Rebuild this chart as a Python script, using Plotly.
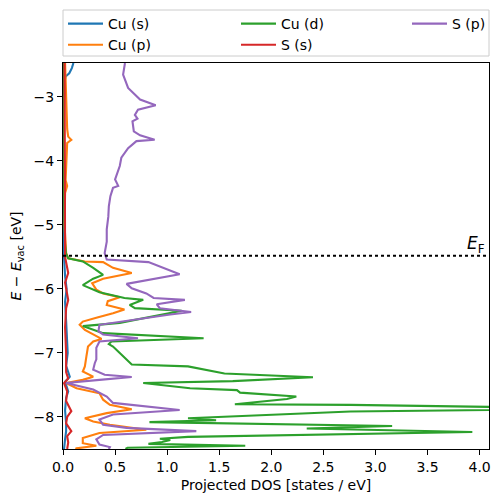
import plotly.graph_objects as go

# ---------------- data ----------------
E_F = -5.48

cu_s_E = [-2.47, -2.55, -2.63, -2.68, -2.80, -3.5, -4.5, -5.5, -5.8, -6.0, -6.2, -6.5, -6.8,
          -7.0, -7.2, -7.37, -7.45, -7.6, -7.7, -7.9, -8.1, -8.22, -8.35, -8.5]
cu_s_dos = [0.10, 0.085, 0.06, 0.025, 0.01, 0.005, 0.005, 0.01, 0.02, 0.035, 0.02, 0.03, 0.04,
            0.045, 0.03, 0.065, 0.02, 0.05, 0.03, 0.02, 0.03, 0.03, 0.02, 0.01]

cu_p_E = [-2.47, -3.0, -3.5, -3.62, -3.67, -3.72, -4.0, -4.3, -4.39, -4.5, -5.0, -5.44, -5.52,
          -5.57, -5.58, -5.67, -5.75, -5.84, -5.91, -6.01, -6.07, -6.13, -6.19, -6.25, -6.32,
          -6.38, -6.45, -6.51, -6.56, -6.64, -6.71, -6.78, -6.82, -6.90, -7.05, -7.21, -7.29,
          -7.37, -7.42, -7.47, -7.55, -7.63, -7.73, -7.81, -7.88, -7.94, -8.02, -8.07, -8.12,
          -8.16, -8.20, -8.25, -8.33, -8.41, -8.45, -8.49, -8.5]
cu_p_dos = [0.02, 0.03, 0.04, 0.05, 0.08, 0.04, 0.03, 0.025, 0.04, 0.02, 0.015, 0.03, 0.05,
            0.21, 0.385, 0.48, 0.66, 0.385, 0.28, 0.32, 0.385, 0.545, 0.43, 0.42, 0.59,
            0.48, 0.32, 0.19, 0.16, 0.21, 0.29, 0.37, 0.29, 0.24, 0.225, 0.21, 0.19,
            0.29, 0.19, 0.03, 0.13, 0.35, 0.385, 0.45, 0.66, 0.42, 0.21, 0.29, 0.45,
            0.61, 0.80, 0.35, 0.19, 0.19, 0.32, 0.13, 0.12]

cu_d_E = [-2.47, -4.0, -4.5, -5.0, -5.3, -5.45, -5.52, -5.57, -5.67, -5.78, -5.84, -5.94,
          -6.05, -6.14, -6.17, -6.25, -6.30, -6.34, -6.43, -6.53, -6.58, -6.69, -6.77, -6.82,
          -6.86, -6.90, -7.00, -7.10, -7.18, -7.21, -7.32, -7.38, -7.44, -7.47, -7.55, -7.58,
          -7.62, -7.68, -7.72, -7.80, -7.81, -7.87, -7.915, -8.02, -8.05, -8.08, -8.11, -8.14,
          -8.18, -8.235, -8.31, -8.34, -8.36, -8.39, -8.42, -8.45, -8.48, -8.5]
cu_d_dos = [0.002, 0.005, 0.01, 0.015, 0.02, 0.03, 0.05, 0.19, 0.29, 0.385, 0.29, 0.19,
            0.35, 0.59, 0.77, 0.64, 0.69, 1.14, 0.87, 0.545, 0.19, 0.385, 1.35, 0.465,
            0.44, 0.48, 0.545, 0.61, 0.66, 1.20, 1.55, 2.40, 1.63, 0.77, 1.22, 1.67,
            1.70, 2.24, 2.15, 1.65, 2.76, 5.2, 2.76, 1.20, 1.47, 0.83, 2.0, 3.16,
            2.34, 3.93, 1.20, 0.93, 1.03, 0.95, 0.82, 1.75, 0.62, 0.60]

s_s_E = [-2.47, -3.0, -4.0, -5.0, -5.5, -5.75, -5.9, -6.17, -6.3, -6.6, -7.0, -7.3, -7.4,
         -7.47, -7.6, -7.75, -7.91, -8.0, -8.1, -8.22, -8.3, -8.4, -8.5]
s_s_dos = [0.015, 0.015, 0.015, 0.02, 0.02, 0.05, 0.02, 0.05, 0.03, 0.02, 0.03, 0.03, 0.05,
           0.01, 0.04, 0.03, 0.08, 0.04, 0.03, 0.08, 0.04, 0.05, 0.04]

s_p_E = [-2.47, -2.65, -2.86, -3.04, -3.13, -3.20, -3.28, -3.34, -3.38, -3.54, -3.60, -3.67,
         -3.69, -3.80, -3.95, -4.08, -4.29, -4.39, -4.42, -4.55, -4.71, -4.87, -5.07, -5.26,
         -5.44, -5.54, -5.58, -5.67, -5.77, -5.92, -5.99, -6.07, -6.14, -6.17, -6.24, -6.30,
         -6.36, -6.40, -6.43, -6.48, -6.56, -6.66, -6.71, -6.77, -6.82, -6.92, -7.10, -7.16,
         -7.26, -7.34, -7.375, -7.42, -7.47, -7.57, -7.68, -7.78, -7.89, -7.96, -8.04, -8.12,
         -8.17, -8.22, -8.28, -8.35, -8.43, -8.47, -8.5]
s_p_dos = [0.595, 0.577, 0.625, 0.74, 0.89, 0.72, 0.69, 0.715, 0.667, 0.68, 0.74, 0.88,
           0.705, 0.625, 0.56, 0.545, 0.50, 0.53, 0.48, 0.455, 0.44, 0.435, 0.42, 0.42,
           0.40, 0.42, 0.82, 0.96, 1.12, 0.61, 0.66, 0.80, 0.87, 1.17, 0.90, 0.93,
           1.23, 1.03, 0.90, 0.67, 0.35, 0.34, 0.385, 0.72, 0.35, 0.32, 0.32, 0.305,
           0.29, 0.40, 0.66, 0.35, 0.03, 0.29, 0.42, 0.48, 1.12, 0.48, 0.35, 0.385,
           0.61, 1.28, 0.385, 0.32, 0.35, 0.45, 0.44]

# name, x, y, colour, legend column
series = [
    ("Cu (s)", cu_s_dos, cu_s_E, "#1f77b4", "legend"),
    ("Cu (p)", cu_p_dos, cu_p_E, "#ff7f0e", "legend"),
    ("Cu (d)", cu_d_dos, cu_d_E, "#2ca02c", "legend2"),
    ("S (s)", s_s_dos, s_s_E, "#d62728", "legend2"),
    ("S (p)", s_p_dos, s_p_E, "#9467bd", "legend3"),
]

FONT = "DejaVu Sans"

fig = go.Figure()
for name, x, y, color, leg in series:
    fig.add_trace(go.Scatter(x=x, y=y, mode="lines", name=name,
                             line=dict(color=color, width=2.1), legend=leg))

# legend frame
fig.add_shape(type="rect", xref="paper", yref="paper", x0=0, x1=1,
              y0=1 + 7 / 386, y1=1 + 53 / 386,
              line=dict(color="#cccccc", width=1), fillcolor="rgba(0,0,0,0)")

fig.add_shape(type="line", xref="paper", x0=0, x1=1, yref="y", y0=E_F, y1=E_F,
              line=dict(color="black", width=2, dash="dot"), layer="above")
fig.add_annotation(x=4.07, y=E_F, xref="x", yref="y", text="<i>E</i><sub>F</sub>",
                   showarrow=False, xanchor="right", yanchor="bottom", yshift=-2,
                   font=dict(family=FONT, size=17, color="black"))

axis_common = dict(showgrid=False, zeroline=False, showline=True, mirror=True,
                   linecolor="black", linewidth=1.1, ticks="outside", ticklen=5,
                   tickwidth=1.1, tickcolor="black",
                   tickfont=dict(family=FONT, size=14, color="black"))

fig.update_xaxes(range=[0, 4.09], tickvals=[0, 0.5, 1, 1.5, 2, 2.5, 3, 3.5, 4],
                 tickformat=".1f",
                 title=dict(text="Projected DOS [states / eV]",
                            font=dict(family=FONT, size=14, color="black"), standoff=6),
                 **axis_common)
fig.update_yaxes(range=[-8.5, -2.47], tickvals=[-8, -7, -6, -5, -4, -3],
                 title=dict(text="<i>E</i> − <i>E</i><sub>vac</sub> [eV]",
                            font=dict(family=FONT, size=14, color="black"), standoff=8),
                 **axis_common)

leg_common = dict(orientation="v", yanchor="top", y=1 + 55 / 386, xanchor="left",
                  bgcolor="rgba(0,0,0,0)", borderwidth=0, itemwidth=35,
                  tracegroupgap=0, font=dict(family=FONT, size=14, color="black"))

# the page body adds an 8 px offset, so the figure is 8 px smaller on each side
fig.update_layout(
    width=493, height=494,
    margin=dict(l=55, r=12, t=55, b=53, autoexpand=False),
    plot_bgcolor="white", paper_bgcolor="white",
    font=dict(family=FONT, size=14, color="black"),
    legend=dict(x=0 / 426, **leg_common),
    legend2=dict(x=173 / 426, **leg_common),
    legend3=dict(x=344 / 426, **leg_common),
)

fig.write_html("out.html")
